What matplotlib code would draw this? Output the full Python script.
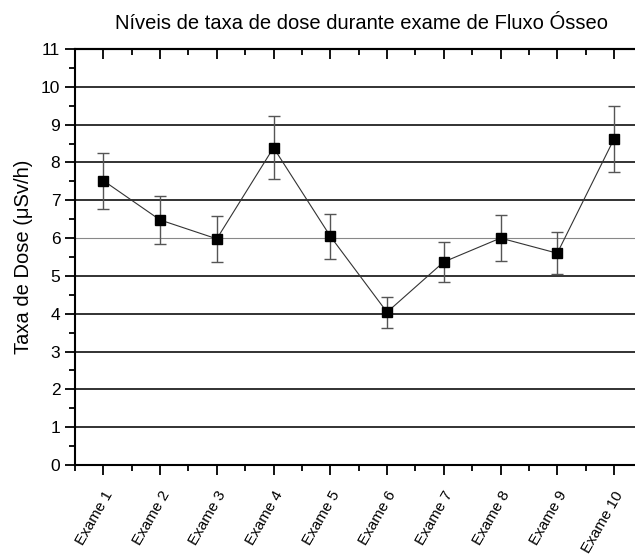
import numpy as np
import matplotlib.pyplot as plt
from matplotlib.ticker import MultipleLocator

plt.rcParams['font.family'] = ['Liberation Sans', 'DejaVu Sans']

exames = ['Exame 1', 'Exame 2', 'Exame 3', 'Exame 4', 'Exame 5',
          'Exame 6', 'Exame 7', 'Exame 8', 'Exame 9', 'Exame 10']
taxa = [7.52, 6.48, 5.98, 8.39, 6.05, 4.04, 5.37, 6.0, 5.6, 8.62]
erro = [0.74, 0.64, 0.60, 0.84, 0.60, 0.41, 0.53, 0.60, 0.56, 0.87]

x = np.arange(1, len(exames) + 1)

fig = plt.figure(figsize=(6.35, 5.54), dpi=100)
ax = fig.add_axes([0.118, 0.1606, 0.882, 0.751])

# linhas horizontais de grade
for v in range(1, 11):
    if v == 6:
        ax.axhline(v, color='#888888', lw=0.8, zorder=1)
    else:
        ax.axhline(v, color='#222222', lw=1.3, zorder=1)

ax.errorbar(x, taxa, yerr=erro, fmt='none', ecolor='#555555', elinewidth=1.0,
            capsize=4, capthick=1.0, zorder=2)
ax.plot(x, taxa, color='#333333', lw=0.8, zorder=3)
ax.plot(x, taxa, 's', color='black', ms=6.5, zorder=4)

ax.set_xlim(0.5, 10.37)
ax.set_ylim(0, 11)
ax.yaxis.set_major_locator(MultipleLocator(1))
ax.yaxis.set_minor_locator(MultipleLocator(0.5))
ax.set_xticks(x)
ax.xaxis.set_minor_locator(MultipleLocator(0.5))
ax.set_xticklabels(exames, rotation=60, ha='right', rotation_mode='anchor', fontsize=11)

ax.tick_params(axis='y', which='major', direction='out', length=7, width=1.3, labelsize=12.5)
ax.tick_params(axis='y', which='minor', direction='out', length=4, width=1.3)
ax.tick_params(axis='x', which='major', direction='out', length=7, width=1.3, pad=10)
ax.tick_params(axis='x', which='minor', direction='out', length=4, width=1.3)

for s in ['left', 'bottom', 'top']:
    ax.spines[s].set_linewidth(1.5)
ax.spines['right'].set_visible(False)

# eixo superior: marcas para dentro, sem rótulos
top = ax.secondary_xaxis('top')
top.set_xticks(x)
top.xaxis.set_minor_locator(MultipleLocator(0.5))
top.set_xticklabels([])
top.tick_params(which='major', direction='in', length=7, width=1.3)
top.tick_params(which='minor', direction='in', length=4, width=1.3)
top.spines['top'].set_linewidth(1.5)

ax.set_ylabel('Taxa de Dose (\u03bcSv/h)', fontsize=14.5, labelpad=6)
fig.text(0.57, 0.958, 'Níveis de taxa de dose durante exame de Fluxo Ósseo',
         ha='center', va='center', fontsize=14.5)

fig.savefig('out.png', dpi=100)
